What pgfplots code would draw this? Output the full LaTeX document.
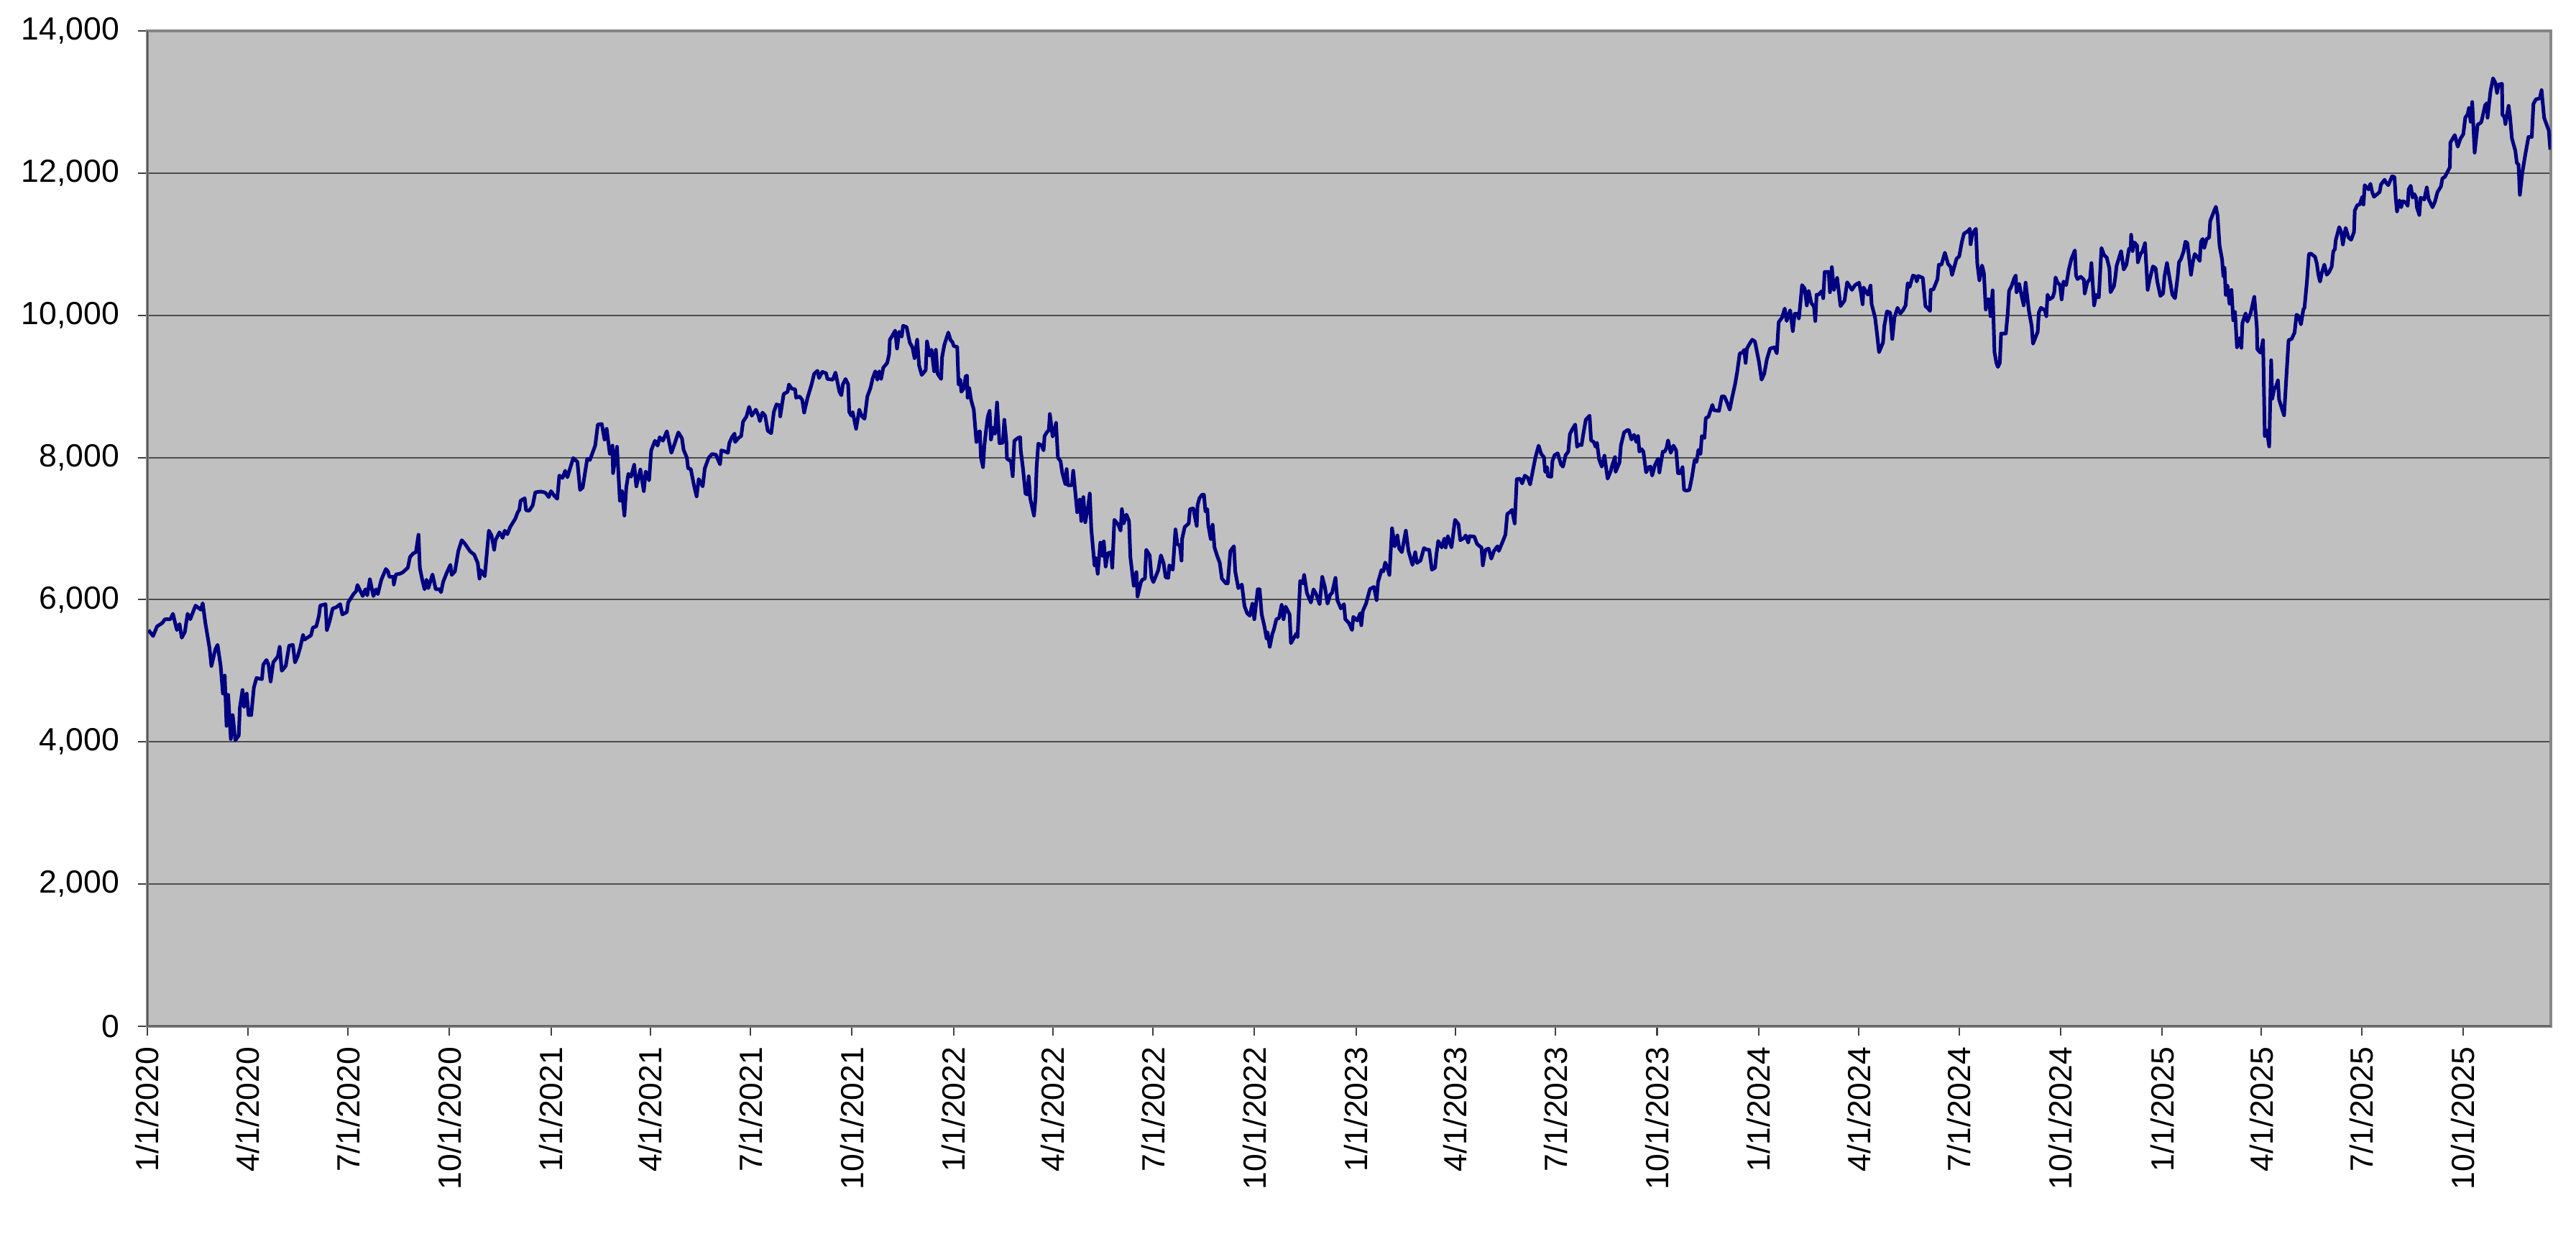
\documentclass[border=0pt]{standalone}
\usepackage{fontspec}
\setmainfont{Liberation Sans}
\usepackage{pgfplots}
\pgfplotsset{compat=1.18}
\definecolor{plotbg}{HTML}{C0C0C0}
\definecolor{navyline}{HTML}{000080}
\begin{document}
\begin{tikzpicture}
\useasboundingbox (-49.2pt,-69.36pt) rectangle (810.96pt,342.72pt);
\begin{axis}[
  at={(0pt,0pt)}, anchor=south west,
  scale only axis, width=802.56pt, height=332.4pt,
  xmin=0, xmax=2179.5, ymin=0, ymax=14000,
  axis background/.style={fill=plotbg},
  xtick={0,91,182,274,366,456,547,639,731,821,912,1004,1096,1186,1277,1369,1461,1552,1643,1735,1827,1917,2008,2100},
  xticklabels={1/1/2020,4/1/2020,7/1/2020,10/1/2020,1/1/2021,4/1/2021,7/1/2021,10/1/2021,1/1/2022,4/1/2022,7/1/2022,10/1/2022,1/1/2023,4/1/2023,7/1/2023,10/1/2023,1/1/2024,4/1/2024,7/1/2024,10/1/2024,1/1/2025,4/1/2025,7/1/2025,10/1/2025},
  ytick={0,2000,4000,6000,8000,10000,12000,14000},
  scaled y ticks=false,
  yticklabel={\pgfmathprintnumber[assume math mode=true,1000 sep={,}]{\tick}},
  ymajorgrids, major grid style={black!70, line width=0.5pt},
  tick align=outside, major tick length=3.2pt,
  xtick pos=bottom, ytick pos=left,
  tick style={black!75, line width=0.5pt},
  tick label style={font=\fontsize{10.7}{12.8}\selectfont, text=black},
  xticklabel style={rotate=90, anchor=east, inner xsep=3.5pt, inner ysep=0pt},
  yticklabel style={anchor=east, inner xsep=5.9pt, inner ysep=0pt},
  axis line style={draw=black!48, line width=0.9pt},
]
\addplot[navyline, line width=1.2pt, line join=round] coordinates {
(1,5573)(5.2,5489)(8.8,5624)(13.6,5674)(16,5725)(20.8,5725)(23.2,5802)(26.8,5573)(29.2,5657)(31.2,5465)(34,5546)(36.5,5802)(38.9,5725)(43.7,5917)(48.5,5859)(50.2,5950)(52.6,5674)(56.4,5320)(58.1,5068)(61.7,5303)(63.7,5364)(66.5,5068)(68.5,4680)(70.2,4933)(71.8,4225)(73.3,4663)(75.7,4040)(77.4,4377)(79.8,4023)(82.9,4090)(83.9,4478)(86.3,4731)(87.7,4495)(90.1,4680)(91.8,4377)(94.2,4377)(96.6,4764)(99,4899)(103.9,4882)(105.1,5085)(108,5152)(109.9,5085)(111.8,4849)(114.2,5118)(118.3,5202)(120,5337)(121.9,5000)(125.5,5068)(128.6,5354)(132,5364)(133.9,5118)(136.3,5202)(138.8,5337)(141.2,5506)(142.4,5438)(148.4,5499)(150.1,5607)(153.2,5624)(155.6,5775)(156.8,5917)(161.6,5937)(162.8,5573)(165.2,5691)(168.1,5876)(171.2,5893)(174.9,5937)(176.8,5792)(180.9,5826)(182.1,5961)(186.9,6078)(189.3,6119)(190.5,6207)(195.3,6052)(197.7,6146)(199.4,6062)(201.8,6287)(205,6052)(207.4,6146)(209,6078)(212.2,6281)(216.3,6432)(218.2,6398)(219.4,6321)(223,6321)(223.5,6213)(225.4,6355)(229,6365)(231.4,6382)(236.2,6449)(238.2,6601)(241.1,6651)(243.5,6668)(245.9,6914)(247.1,6449)(249.5,6264)(251.4,6146)(253.1,6281)(254.8,6163)(258.6,6355)(261.5,6146)(265.1,6146)(266.3,6105)(268.3,6254)(271.6,6382)(274.8,6490)(276,6348)(278.9,6398)(282,6685)(285.1,6837)(288,6786)(292.8,6678)(296.4,6634)(299.6,6517)(301.2,6297)(302.4,6415)(306,6331)(309.7,6971)(312.1,6904)(314.5,6702)(315.7,6837)(319.3,6948)(322.2,6870)(324.1,6971)(326.5,6921)(329,7022)(333.7,7140)(335.7,7224)(337.3,7264)(338.5,7393)(342.2,7426)(343.4,7258)(346.2,7251)(349.4,7325)(351.8,7510)(356.6,7521)(360.2,7510)
(361.6,7493)(364,7443)(366,7527)(368.8,7466)(371.7,7419)(373.6,7746)(376.5,7712)(378.9,7814)(380.9,7722)(386.2,7992)(390,7938)(392.4,7544)(394.8,7578)(398.9,7982)(401.3,7965)(406.1,8167)(408.5,8464)(412.1,8471)(414.6,8252)(416.5,8403)(419.4,8049)(421.8,8167)(422.3,7780)(424.7,8032)(425.9,8151)(428.5,7392)(430.4,7527)(432.6,7183)(434.3,7578)(436.2,7770)(438.6,7729)(441.5,7898)(443.4,7594)(447.1,7830)(450.2,7527)(451.9,7803)(455,7679)(456.9,8100)(460.3,8235)(462.7,8167)(464.6,8285)(467.5,8235)(471.1,8369)(475.2,8066)(478.3,8201)(481.5,8353)(484.8,8268)(486.3,8107)(489.2,7999)(490.4,7847)(492.8,7837)(495.9,7594)(498.1,7453)(500,7696)(503.6,7594)(505.5,7847)(508.9,7992)(512,8049)(515.6,8039)(519.3,7904)(520.5,8100)(524.1,8083)(526.5,8066)(527.7,8201)(530.1,8285)(532.5,8336)(533,8218)(536.1,8275)(538.5,8302)(540.2,8504)(543.3,8578)(545.7,8713)(548.1,8588)(551.8,8673)(554.2,8588)(555.4,8511)(557.8,8632)(560.2,8588)(562.6,8376)(565.7,8342)(568.1,8639)(570.5,8747)(573.4,8733)(573.9,8578)(577,8892)(580.6,8925)(581.8,9027)(584.2,8969)(587.4,8959)(588.3,8841)(591.5,8858)(593.9,8808)(595.6,8632)(598.7,8841)(602.3,9027)(604.7,9178)(607.6,9219)(609.1,9118)(612,9205)(615.5,9185)(616.7,9104)(621.6,9094)(624,9195)(627.6,8925)(629.3,8875)(630.7,9027)(633.1,9104)(635.5,9027)(636.5,8639)(638.4,8588)(639.6,8639)(642.7,8403)(645.6,8673)(648,8578)(650.4,8545)(652.9,8858)(655.7,8976)(657.7,9111)(660.1,9212)(662,9094)(663.7,9212)(665.4,9104)(667.3,9262)(670.9,9330)(672.6,9448)(673.3,9657)(675.7,9717)(678.1,9785)(679.8,9532)(681.8,9768)(684.1,9700)(685.3,9852)(688.5,9835)(691.4,9616)(693.8,9549)(695.7,9397)(698.1,9657)(699.8,9296)(702.2,9161)(705.8,9229)(707,9633)(709.4,9431)(711.1,9515)(713.5,9212)(715,9515)(716.6,9178)(719.8,9104)(720.7,9414)(722.7,9582)(726.3,9758)
(728.4,9650)(730.1,9623)(731.3,9566)(734.4,9556)(735.6,9027)(737.3,9094)(738.1,8925)(740.5,8976)(742.1,9144)(743.3,9151)(743.8,8841)(745.3,8976)(747,8808)(749.4,8673)(751.8,8218)(753.5,8353)(754.9,8369)(755.9,7999)(757.8,7864)(759,8167)(760.7,8403)(762.1,8572)(763.8,8656)(765,8252)(766.9,8420)(768.6,8336)(770.5,8774)(772.7,8201)(775.8,8208)(777.1,8531)(779,8218)(779.5,7982)(783.1,7948)(784.7,7736)(786.2,8235)(789.6,8275)(791.5,8285)(792,8100)(793.9,7864)(796.3,7493)(798.2,7477)(799.2,7736)(800.6,7426)(804,7183)(805.4,7426)(806.4,7864)(807.9,8194)(810.7,8174)(812.7,8100)(813.6,8302)(815.6,8353)(817.5,8386)(818.4,8612)(820.9,8295)(822.3,8342)(824,8487)(825.7,7999)(828.1,7948)(829.5,7797)(832.4,7628)(833.6,7837)(834.8,7611)(838.4,7611)(839.6,7814)(843.2,7230)(845.6,7409)(846.9,7106)(848.8,7443)(850.5,7089)(852.9,7291)(854.6,7493)(856,6988)(858.9,6483)(860.1,6584)(861.8,6365)(864.2,6803)(866.1,6618)(867.3,6820)(869,6466)(870.9,6651)(873.8,6668)(875,6449)(876.9,7123)(880.5,7055)(882.5,6971)(883.7,7274)(885.4,7072)(887.8,7197)(890.2,7106)(891.4,6601)(894.5,6196)(896.9,6388)(897.9,6045)(901,6247)(902.2,6280)(904.6,6297)(905.8,6702)(908.9,6624)(910.6,6314)(912.3,6247)(916.7,6415)(919.1,6624)(921.5,6517)(923.4,6314)(925.8,6307)(926.8,6483)(929.9,6422)(932.3,6988)(934,6786)(936.4,6752)(937.8,6550)(938.3,6853)(940.7,7022)(944.3,7072)(945.5,7274)(948.4,7284)(951.6,7038)(952.3,7325)(954,7426)(956.4,7477)(958.1,7477)(959.5,7241)(961.2,7274)(962,7055)(964.3,6853)(966,7055)(967.7,6735)(970.1,6618)(972.5,6517)(974.4,6297)(978,6230)(979.7,6230)(982.1,6685)(985.3,6752)(986.5,6398)(989.3,6162)(992.5,6213)(994.9,5910)(997.3,5809)(999.7,5775)(1002.1,5944)(1003.8,5725)(1006.9,6146)(1008.6,6146)(1010.5,5792)(1013,5623)(1014.9,5455)(1015.8,5539)(1017.8,5337)(1020.2,5522)(1021.4,5573)(1023.8,5725)(1026.2,5741)(1028.6,5927)(1030.3,5725)(1032.2,5903)(1035.8,5792)(1037,5388)(1039.4,5455)(1041.8,5522)(1043,5472)(1045.4,6264)(1047.8,6230)(1049,6348)(1051.5,6095)(1055.1,5960)(1057.5,6146)(1059.9,6078)(1063,5937)(1065.4,6321)(1067.8,6179)(1070.2,5944)(1072.6,6071)(1074.3,6095)(1077.4,6307)(1079.1,5994)(1082.3,5876)(1085.1,5937)(1086.3,5725)(1089.5,5674)(1092.4,5573)(1093.6,5758)(1097.2,5707)
(1099.8,5809)(1100.8,5640)(1102.2,5842)(1105.1,5944)(1108.7,6152)(1112.3,6179)(1114.7,5994)(1116,6247)(1119.1,6415)(1120.8,6398)(1122.5,6523)(1124.4,6449)(1126.3,6348)(1128.7,7005)(1131.1,6752)(1133.5,6904)(1135.2,6719)(1137.6,6668)(1141.2,6971)(1143.6,6685)(1147.2,6489)(1149.7,6668)(1151.3,6517)(1154.5,6550)(1157.6,6725)(1160.5,6702)(1162.4,6702)(1164.8,6422)(1167.7,6449)(1168.9,6634)(1170.6,6826)(1173.7,6735)(1176.1,6860)(1177.3,6735)(1179.3,6894)(1182.6,6735)(1185.8,7123)(1188.9,7062)(1190.6,6836)(1194.2,6870)(1195.4,6904)(1197.8,6803)(1199,6894)(1203.3,6887)(1205.7,6786)(1208.1,6752)(1209.8,6735)(1211,6483)(1213.4,6702)(1216.3,6719)(1218.7,6577)(1221.1,6685)(1224.3,6752)(1225.5,6685)(1229.1,6820)(1231.5,6914)(1233.2,7207)(1235.6,7231)(1237.5,7264)(1239.9,7072)(1241.8,7696)(1244.7,7702)(1246.7,7635)(1249.1,7746)(1251.9,7712)(1253.9,7621)(1255.6,7756)(1258.7,7999)(1261.6,8167)(1264,8049)(1266.4,8006)(1267.6,7797)(1269.3,7864)(1270,7736)(1273.1,7729)(1274.1,7948)(1276,8032)(1278.9,8059)(1282,7898)(1283.7,7871)(1286.1,8032)(1288.5,8083)(1290,8329)(1292.4,8403)(1294.8,8464)(1296.5,8151)(1298.9,8184)(1300.6,8174)(1302,8319)(1304.4,8531)(1307.8,8588)(1309.2,8241)(1311.6,8218)(1313.3,8151)(1314.5,8208)(1316.5,7972)(1318.9,7871)(1321.3,8026)(1324.2,7702)(1327.1,7814)(1328.5,7898)(1330.9,8006)(1331.4,7797)(1335,7931)(1336.2,8167)(1339.1,8353)(1342.2,8386)(1343.4,8386)(1345.8,8252)(1348.2,8319)(1350.2,8218)(1351.8,8302)(1353,8083)(1355,8117)(1356.6,8083)(1359.1,7790)(1361.5,7864)(1363.1,7871)(1364.6,7746)(1367,7891)(1369.9,7982)(1371.1,7790)(1374.2,8083)(1375.9,8083)(1377.6,8134)(1379,8241)(1381.4,8066)(1383.9,8167)(1386.3,8100)(1388,7780)(1390.3,7780)(1392.1,7864)(1393.5,7544)(1395.9,7534)(1398.3,7544)(1400.7,7729)(1403.1,7965)(1404.8,7938)(1406.5,8107)(1408.4,8049)(1409.6,8302)(1412,8275)(1413.2,8555)(1415.6,8572)(1419.2,8740)(1420.4,8666)(1425.2,8656)(1427.7,8858)(1430.1,8858)(1432.5,8774)(1434.9,8673)(1437.3,8858)(1439.7,9027)(1441.6,9195)(1444,9465)(1446.4,9475)(1448.1,9515)(1449.3,9330)(1450.5,9532)(1452.9,9599)(1455.3,9657)(1457.7,9633)(1461.4,9347)(1463.8,9094)(1466.2,9178)(1468.6,9380)(1471.5,9532)(1475.3,9549)
(1477.6,9465)(1479.3,9903)(1482.4,9970)(1484.8,10095)(1486.5,9920)(1489.7,10071)(1492.1,9778)(1493.8,10021)(1496.2,10021)(1497.6,9953)(1499.3,10223)(1500.5,10425)(1502.9,10374)(1504.8,10139)(1506.5,10341)(1508.9,10172)(1511.3,10122)(1512.5,9920)(1513.7,10290)(1515.4,10290)(1518.5,10341)(1519.7,10240)(1521,10610)(1524.6,10610)(1525.8,10324)(1527.5,10678)(1529.4,10358)(1532.3,10526)(1535.4,10129)(1539,10206)(1541.4,10465)(1545.7,10358)(1548.6,10425)(1552.2,10459)(1553.9,10324)(1555.4,10155)(1556.3,10391)(1560.2,10290)(1562.6,10418)(1563.6,10155)(1566.7,9970)(1568.4,9751)(1570.3,9481)(1573.9,9616)(1575.1,9852)(1577.5,10054)(1580.4,10038)(1582.3,9667)(1584.3,9970)(1587.1,10105)(1589.6,10027)(1592,10071)(1594.4,10139)(1596.3,10452)(1598,10398)(1601.1,10560)(1603.5,10543)(1604.5,10475)(1605.9,10553)(1610,10526)(1612.4,10128)(1614.8,10095)(1616.5,10061)(1617.2,10358)(1619.6,10364)(1623.3,10509)(1624.5,10711)(1626.9,10711)(1630,10880)(1632.9,10722)(1635.3,10678)(1636.5,10566)(1640.6,10796)(1643,10829)(1645.4,11031)(1647.3,11149)(1650.9,11183)(1652.6,11217)(1653.3,10998)(1655,11149)(1658.1,11217)(1659.4,10728)(1661.3,10492)(1663.7,10701)(1665.4,10593)(1667.1,10081)(1668.5,10223)(1670.2,10223)(1671.4,9987)(1673.3,10351)(1675,9481)(1676.7,9330)(1678.1,9273)(1679.8,9330)(1681,9744)(1685.3,9744)(1687,10027)(1688.2,10341)(1690.6,10418)(1693,10526)(1694.3,10560)(1695,10324)(1697.4,10442)(1699.8,10257)(1701.5,10139)(1703.2,10459)(1706.3,10054)(1708.7,9852)(1709.9,9600)(1714.2,9768)(1715.2,10038)(1717.1,10105)(1720.7,10071)(1722,9987)(1723.1,10290)(1724.8,10223)(1727.9,10257)(1729.2,10324)(1730.4,10533)(1732,10465)(1734.4,10425)(1735.9,10223)(1737.6,10475)(1740,10425)(1742.4,10644)(1744.8,10796)(1747.9,10913)(1748.9,10560)(1750.3,10509)(1753.2,10543)(1756.1,10499)(1756.8,10307)(1759.2,10465)(1761.6,10509)(1762.9,10735)(1765.3,10139)(1767.2,10290)(1769.6,10250)(1772,10947)(1774.4,10846)(1776.8,10812)(1779.2,10661)(1780.2,10324)(1783.3,10408)(1784.5,10526)(1785.7,10695)(1789.8,10903)(1792.2,10644)(1794.6,10711)(1797,10937)(1798.5,10947)(1798.9,11133)(1800.2,10903)(1801.9,11025)(1804.3,10981)(1805,10745)(1807.4,10863)(1809.1,10897)(1811.5,11015)(1813.9,10358)(1815.8,10509)(1818.7,10688)(1821.1,10661)(1822.6,10475)(1825.4,10273)(1827.9,10307)(1829.1,10543)(1831.4,10735)(1833.9,10509)(1836.3,10290)(1838.7,10240)(1841.1,10543)(1842.3,10745)(1844.2,10796)
(1846.5,10900)(1848.1,11035)(1849.9,11016)(1853.2,10570)(1854.8,10744)(1856.6,10861)(1858.9,10822)(1861.1,10764)(1862.2,11035)(1863.8,11074)(1865.2,10946)(1867.4,11074)(1869.6,11093)(1870.6,11326)(1873.5,11442)(1875.7,11527)(1877.3,11403)(1879.1,10977)(1881.4,10783)(1882.5,10550)(1883.6,10667)(1884.7,10287)(1886.3,10415)(1888.1,10163)(1889.9,10357)(1891.5,9930)(1893.1,10047)(1894.9,9550)(1897.1,9678)(1898.9,9543)(1899.8,9891)(1902.7,10027)(1904.3,9911)(1907.2,10027)(1910.6,10260)(1912.9,9833)(1913.3,9523)(1916.2,9473)(1918.5,9651)(1920.1,8302)(1921.9,8380)(1924.1,8155)(1925.9,9368)(1926.8,8826)(1928.6,8961)(1930.4,9000)(1932,9085)(1933.1,8814)(1935.4,8698)(1937.6,8593)(1939.9,9194)(1941.7,9651)(1944.4,9667)(1947.1,9756)(1948.9,10008)(1950.7,9989)(1952.9,9872)(1955.1,10085)(1956.1,10105)(1958.3,10473)(1960.1,10861)(1961.9,10868)(1965.7,10822)(1967.3,10725)(1968.7,10570)(1970.2,10473)(1971.8,10597)(1974.1,10713)(1976.3,10570)(1978.5,10609)(1980.8,10686)(1982.2,10899)(1983.7,10930)(1984.4,11054)(1987.6,11240)(1989.4,11171)(1990.9,10996)(1993.4,11229)(1996.1,11093)(1998.4,11062)(2001,11171)(2001.7,11473)(2004,11550)(2006.2,11558)(2008.5,11667)(2009.6,11558)(2010.7,11830)(2014.1,11771)(2015.9,11849)(2017.5,11733)(2019.1,11667)(2022,11705)(2024.2,11733)(2025.4,11837)(2028.7,11907)(2029.9,11868)(2032.1,11830)(2035.5,11954)(2037.7,11946)(2038.9,11636)(2040,11461)(2042.2,11616)(2043.8,11519)(2045.2,11605)(2047.9,11589)(2049.7,11539)(2050.6,11771)(2052.4,11822)(2054.2,11655)(2055.7,11705)(2057.3,11655)(2058,11519)(2060.2,11411)(2061.4,11655)(2064.7,11628)(2067,11798)(2068.6,11636)(2072.2,11519)(2074.4,11597)(2076.7,11733)(2079.8,11810)(2081.2,11926)(2083.4,11946)(2087.9,12081)(2088.4,12430)(2092.4,12535)(2095.1,12372)(2097.4,12481)(2100.1,12547)(2101.9,12779)(2104.1,12829)(2105.2,12915)(2106.8,12721)(2108.2,13000)(2110.4,12287)(2113.1,12682)(2115.4,12702)(2116.5,12721)(2119.9,12954)(2121.7,12985)(2122.1,12779)(2124.8,13155)(2127.1,13333)(2129.3,13264)(2130.7,13128)(2132.2,13244)(2135.2,13256)(2135.6,12818)(2137.4,12791)(2138.3,12690)(2139.7,12818)(2141.2,12946)(2142.4,12806)(2144.2,12488)(2147.3,12314)(2148.7,12140)(2150.2,12120)(2151.4,11694)(2153.6,12004)(2156.3,12256)(2159.2,12508)(2162.2,12508)(2163.7,12973)(2166,13039)(2169.4,13050)(2171.1,13167)(2173.4,12779)(2176.1,12663)(2177.6,12600)(2179,12330)
};
\draw[black!75, line width=0.6pt] (rel axis cs:0,1) -- (rel axis cs:0,0) -- (rel axis cs:1,0);
\end{axis}
\end{tikzpicture}
\end{document}
